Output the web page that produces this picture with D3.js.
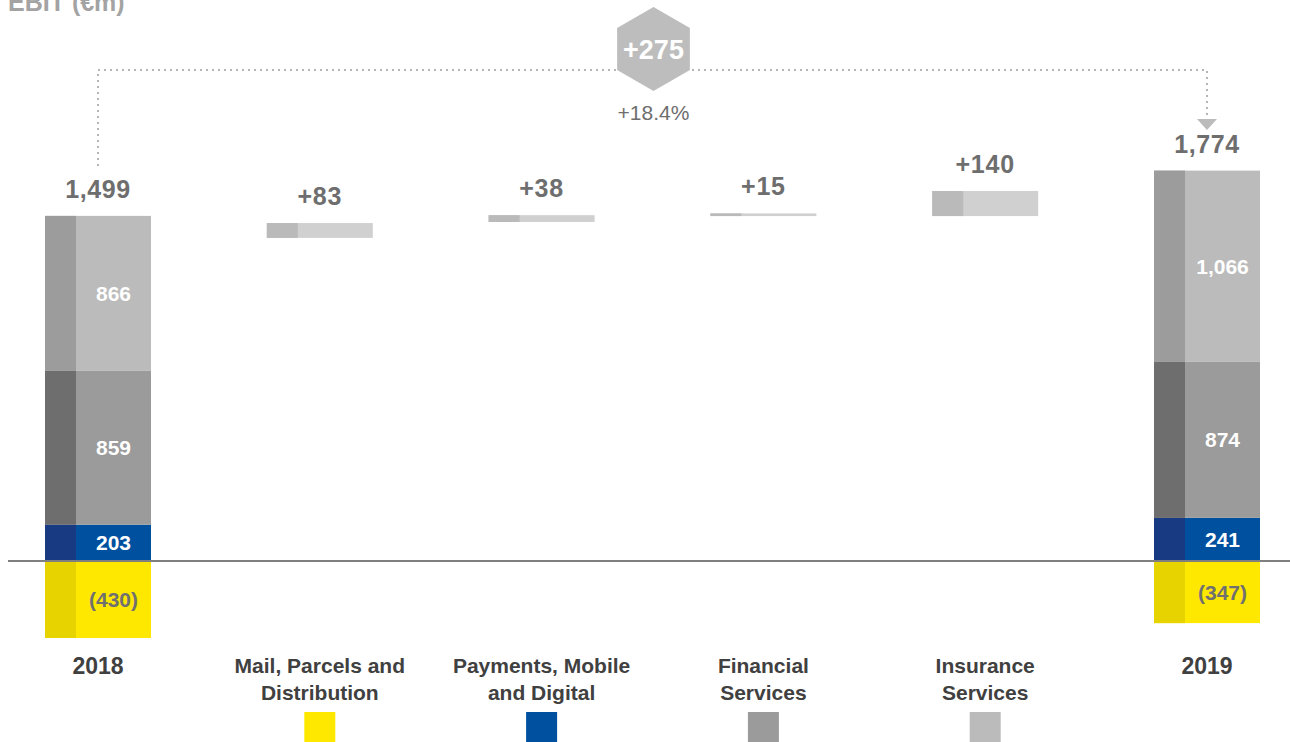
<!DOCTYPE html>
<html>
<head>
<meta charset="utf-8">
<script src="https://cdn.jsdelivr.net/npm/d3@7"></script>
<style>
  html, body { margin: 0; padding: 0; background: #fff; }
  svg { display: block; font-family: "Liberation Sans", Arial, Helvetica, sans-serif; }
</style>
</head>
<body>
<svg id="chart" width="1290" height="742"></svg>
<script>
// EBIT bridge 2018 -> 2019 by division (€m)
const columns = ["2018", "mail", "payments", "financial", "insurance", "2019"];
const columnLabels = [["2018"], ["Mail, Parcels and", "Distribution"], ["Payments, Mobile", "and Digital"], ["Financial", "Services"], ["Insurance", "Services"], ["2019"]];
const divisions = ["mail", "payments", "financial", "insurance"];

const ebit2018 = [-430, 203, 859, 866];
const ebit2019 = [-347, 241, 874, 1066];
const totals = [1499, 1774];
const deltas = [83, 38, 15, 140];
const deltaBase = [1805, 1894, 1927, 1927];
const totalChange = "+275";
const totalChangePct = "+18.4%";

const segLabels2018 = ["(430)", "203", "859", "866"];
const segLabels2019 = ["(347)", "241", "874", "1,066"];

// colours per division: [main, left strip]
const colorMain = ["#FFE800", "#0050A0", "#9B9B9B", "#BBBBBB"];
const colorStrip = ["#E6D300", "#173A82", "#6E6E6E", "#9C9C9C"];
const segTextColor = ["#707070", "#ffffff", "#ffffff", "#ffffff"];

const svg = d3.select("#chart");

const x = d3.scalePoint().domain(columns).range([98, 1207]);
const y = d3.scaleLinear().domain([0, 2000]).range([561, 203]);
const barW = 106, stripW = 31;

// title
svg.append("text").attr("x", 8).attr("y", 11)
  .attr("font-size", 25).attr("font-weight", "bold").attr("fill", "#A3A3A3")
  .text("EBIT (€m)");

// connector between the two totals
const conY = 70;
const conPts = [[x("2018"), 166], [x("2018"), conY], [x("2019"), conY], [x("2019"), 118]];
svg.append("path")
  .attr("d", d3.line()(conPts))
  .attr("fill", "none").attr("stroke", "#B5B5B5").attr("stroke-width", 2)
  .attr("stroke-dasharray", "2,4");
svg.append("path")
  .attr("d", `M${x("2019") - 10},119 L${x("2019") + 10},119 L${x("2019")},130 Z`)
  .attr("fill", "#BBBBBB");

// hexagon with total change
const hx = 653.5, hy = 49, hr = 42;
const hex = d3.range(6).map(i => {
  const a = Math.PI / 3 * i - Math.PI / 2;
  return [hx + hr * Math.cos(a), hy + hr * Math.sin(a)];
});
svg.append("path").attr("d", d3.line()(hex) + "Z").attr("fill", "#BDBDBD");
svg.append("text").attr("x", hx).attr("y", hy + 9.5).attr("text-anchor", "middle")
  .attr("font-size", 27).attr("font-weight", "bold").attr("fill", "#fff").text(totalChange);
svg.append("text").attr("x", hx).attr("y", 120).attr("text-anchor", "middle")
  .attr("font-size", 21).attr("fill", "#6E6E6E").text(totalChangePct);

// stacked total bars
function stackBar(col, values, labels, total) {
  const cx = x(col), left = cx - barW / 2;
  let pos = 0;
  const g = svg.append("g");
  values.forEach((v, i) => {
    let y0, y1;
    if (v < 0) { y0 = y(0); y1 = y(v); }
    else { y0 = y(pos + v); y1 = y(pos); pos += v; }
    g.append("rect").attr("x", left).attr("y", y0).attr("width", barW).attr("height", y1 - y0)
      .attr("fill", colorMain[i]);
    g.append("rect").attr("x", left).attr("y", y0).attr("width", stripW).attr("height", y1 - y0)
      .attr("fill", colorStrip[i]);
    g.append("text").attr("x", left + stripW + (barW - stripW) / 2).attr("y", (y0 + y1) / 2 + 7.5)
      .attr("text-anchor", "middle").attr("font-size", 21).attr("font-weight", "bold")
      .attr("fill", segTextColor[i]).text(labels[i]);
  });
  svg.append("text").attr("x", cx).attr("y", y(pos) - 18).attr("text-anchor", "middle")
    .attr("font-size", 25).attr("font-weight", "bold").attr("fill", "#6E6E6E")
    .attr("letter-spacing", 0.6)
    .text(d3.format(",")(total));
}
stackBar("2018", ebit2018, segLabels2018, totals[0]);
stackBar("2019", ebit2019, segLabels2019, totals[1]);

// floating delta bars
divisions.forEach((d, i) => {
  const cx = x(d), left = cx - barW / 2;
  const yTop = y(deltaBase[i] + deltas[i]), yBot = y(deltaBase[i]);
  svg.append("rect").attr("x", left).attr("y", yTop).attr("width", barW).attr("height", yBot - yTop)
    .attr("fill", "#D0D0D0");
  svg.append("rect").attr("x", left).attr("y", yTop).attr("width", stripW).attr("height", yBot - yTop)
    .attr("fill", "#BABABA");
  svg.append("text").attr("x", cx).attr("y", yTop - 18).attr("text-anchor", "middle")
    .attr("font-size", 25).attr("font-weight", "bold").attr("fill", "#6E6E6E")
    .attr("letter-spacing", 0.8)
    .text("+" + deltas[i]);
});

// zero line
svg.append("line").attr("x1", 8).attr("x2", 1290).attr("y1", y(0)).attr("y2", y(0))
  .attr("stroke", "#7F7F7F").attr("stroke-width", 2);

// column labels
columns.forEach((c, i) => {
  const isYear = (i === 0 || i === columns.length - 1);
  const t = svg.append("text").attr("text-anchor", "middle")
    .attr("font-size", isYear ? 23 : 21).attr("font-weight", "bold").attr("fill", "#404040");
  columnLabels[i].forEach((line, j) => {
    t.append("tspan").attr("x", x(c)).attr("y", (isYear ? 674 : 673) + j * 27).text(line);
  });
});

// legend squares
divisions.forEach((d, i) => {
  svg.append("rect").attr("x", x(d) - 15.5).attr("y", 712).attr("width", 31).attr("height", 31)
    .attr("fill", colorMain[i]);
});
</script>
</body>
</html>
